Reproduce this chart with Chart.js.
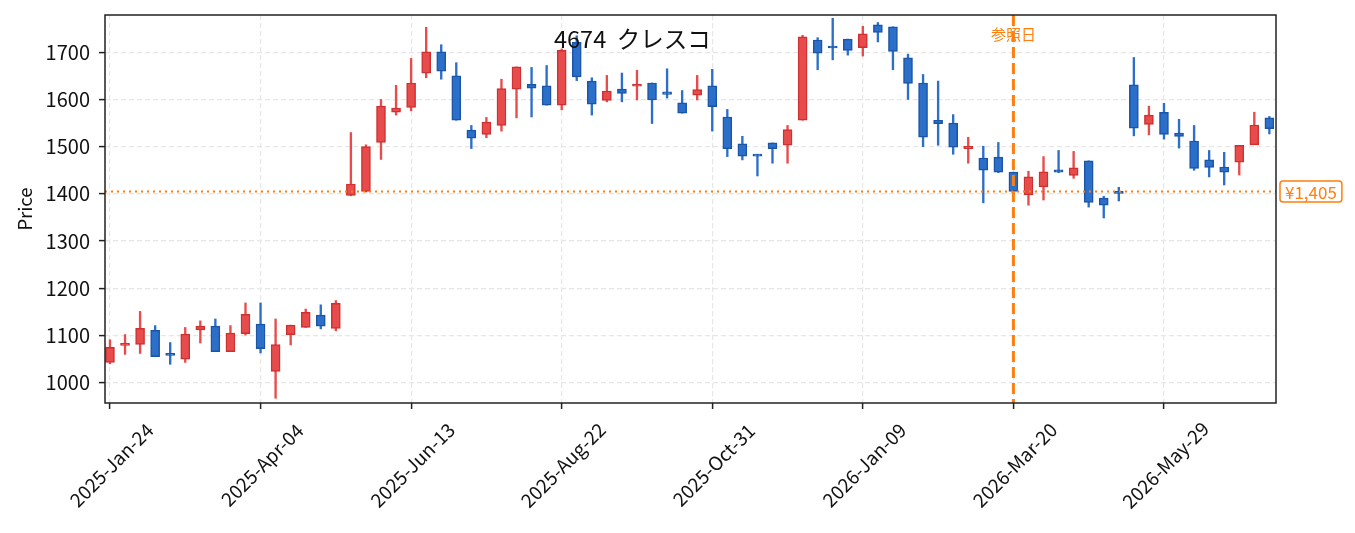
<!DOCTYPE html>
<html><head><meta charset="utf-8">
<script src="https://cdn.jsdelivr.net/npm/chart.js@4.4.0/dist/chart.umd.min.js"></script>
<style>html,body{margin:0;padding:0;background:#fff;} #wrap{width:1355px;height:533px;position:relative;}</style>
</head><body><div id="wrap"><canvas id="c" width="1355" height="533"></canvas></div>
<script>
const dates = [
"2025-Jan-24","2025-Jan-31","2025-Feb-07","2025-Feb-14","2025-Feb-21","2025-Feb-28","2025-Mar-07","2025-Mar-14","2025-Mar-21","2025-Mar-28",
"2025-Apr-04","2025-Apr-11","2025-Apr-18","2025-Apr-25","2025-May-02","2025-May-09","2025-May-16","2025-May-23","2025-May-30","2025-Jun-06",
"2025-Jun-13","2025-Jun-20","2025-Jun-27","2025-Jul-04","2025-Jul-11","2025-Jul-18","2025-Jul-25","2025-Aug-01","2025-Aug-08","2025-Aug-15",
"2025-Aug-22","2025-Aug-29","2025-Sep-05","2025-Sep-12","2025-Sep-19","2025-Sep-26","2025-Oct-03","2025-Oct-10","2025-Oct-17","2025-Oct-24",
"2025-Oct-31","2025-Nov-07","2025-Nov-14","2025-Nov-21","2025-Nov-28","2025-Dec-05","2025-Dec-12","2025-Dec-19","2025-Dec-26","2026-Jan-02",
"2026-Jan-09","2026-Jan-16","2026-Jan-23","2026-Jan-30","2026-Feb-06","2026-Feb-13","2026-Feb-20","2026-Feb-27","2026-Mar-06","2026-Mar-13",
"2026-Mar-20","2026-Mar-27","2026-Apr-03","2026-Apr-10","2026-Apr-17","2026-Apr-24","2026-May-01","2026-May-08","2026-May-15","2026-May-22",
"2026-May-29","2026-Jun-05","2026-Jun-12","2026-Jun-19","2026-Jun-26","2026-Jul-03","2026-Jul-10","2026-Jul-17"];
const openP  = [1043,1079,1081,1111,1062,1050,1112,1120,1066,1104, 1124,1024,1102,1117,1143,1115,1397,1405,1509,1573,
                1583,1656,1701,1650,1535,1526,1545,1622,1632,1629, 1588,1721,1639,1598,1622,1628,1635,1616,1593,1609,
                1629,1563,1506,1484,1508,1503,1556,1726,1713,1728, 1710,1758,1754,1688,1635,1556,1550,1496,1476,1478,
                1446,1398,1415,1451,1439,1470,1391,1405,1631,1547, 1573,1529,1512,1472,1457,1467,1504,1561];
const highP  = [1091,1102,1151,1121,1085,1117,1131,1135,1121,1169, 1169,1135,1122,1156,1165,1174,1530,1504,1600,1630,
                1687,1753,1716,1678,1545,1562,1643,1669,1668,1672, 1707,1735,1646,1651,1656,1662,1635,1665,1619,1651,
                1664,1579,1522,1484,1508,1545,1736,1731,1772,1728, 1755,1763,1754,1696,1653,1639,1568,1520,1501,1509,
                1446,1448,1479,1492,1490,1470,1395,1414,1689,1586, 1592,1558,1545,1492,1488,1503,1573,1564];
const lowP   = [1040,1060,1062,1055,1039,1043,1084,1066,1066,1101, 1063, 967,1080,1117,1114,1110,1396,1404,1473,1567,
                1576,1646,1643,1556,1496,1519,1533,1561,1563,1588, 1578,1640,1567,1595,1595,1599,1549,1603,1571,1599,
                1533,1479,1472,1438,1465,1465,1556,1663,1684,1694, 1692,1722,1663,1600,1500,1503,1484,1465,1381,1445,
                1405,1376,1387,1445,1433,1372,1349,1385,1523,1525, 1516,1497,1450,1436,1419,1440,1504,1527];
const closeP = [1075,1082,1115,1055,1058,1103,1120,1066,1105,1145, 1072,1081,1122,1149,1120,1168,1421,1500,1586,1582,
                1635,1701,1660,1556,1518,1552,1623,1669,1624,1588, 1704,1648,1590,1618,1613,1631,1599,1611,1571,1621,
                1585,1496,1480,1480,1496,1536,1733,1698,1709,1704, 1739,1742,1702,1634,1520,1549,1499,1501,1450,1446,
                1405,1436,1447,1446,1455,1382,1376,1401,1539,1567, 1526,1522,1454,1456,1446,1503,1546,1538];
const tickIndex  = [0,10,20,30,40,50,60,70];
const tickLabels = ["2025-Jan-24","2025-Apr-04","2025-Jun-13","2025-Aug-22","2025-Oct-31","2026-Jan-09","2026-Mar-20","2026-May-29"];
const yTicks = [1000,1100,1200,1300,1400,1500,1600,1700];
const refIndex = 60;
const refPrice = 1405;
const titleText = "4674  クレスコ";
const refText = "参照日";
const priceText = "¥1,405";

const UP_FILL = '#e84b4b', UP_EDGE = '#cf3131', DN_FILL = '#2c6fc8', DN_EDGE = '#1b55a8';
const ORANGE = '#ff7f0e';
const isUp = closeP.map((c,i)=> c >= openP[i]);
const bodyData = dates.map((d,i)=>({x:i, y:[Math.min(openP[i],closeP[i]), Math.max(openP[i],closeP[i])]}));
const wickData = dates.map((d,i)=>({x:i, y:[lowP[i], highP[i]]}));

const FONT = "'Noto Sans CJK JP', 'Liberation Sans', sans-serif";

const overlay = {
  id: 'overlay',
  afterDatasetsDraw(chart) {
    const {ctx, chartArea: a, scales: {x, y}} = chart;
    ctx.save();
    ctx.beginPath(); ctx.rect(a.left, a.top, a.right - a.left, a.bottom - a.top); ctx.clip();
    const py = y.getPixelForValue(refPrice);
    ctx.strokeStyle = ORANGE; ctx.lineWidth = 2; ctx.setLineDash([2, 4]); ctx.lineCap = 'butt';
    ctx.beginPath(); ctx.moveTo(a.left, py); ctx.lineTo(a.right, py); ctx.stroke();
    const px = x.getPixelForValue(refIndex);
    ctx.lineWidth = 3; ctx.setLineDash([11, 5]);
    ctx.beginPath(); ctx.moveTo(px, a.top); ctx.lineTo(px, a.bottom); ctx.stroke();
    ctx.setLineDash([]);
    ctx.fillStyle = ORANGE; ctx.font = "15px " + FONT; ctx.textAlign = 'center'; ctx.textBaseline = 'middle';
    ctx.fillText(refText, px, a.top + 19);
    ctx.fillStyle = '#111'; ctx.font = "23.5px " + FONT; ctx.textAlign = 'left'; ctx.textBaseline = 'alphabetic';
    ctx.fillText(titleText, a.left + 449, a.top + 33);
    ctx.restore();
    // price label box outside plot
    ctx.save();
    ctx.font = "17px " + FONT;
    const tw = ctx.measureText(priceText).width;
    const bx = a.right + 4, bw = tw + 10, bh = 21, by = py - bh / 2;
    ctx.fillStyle = '#fff'; ctx.strokeStyle = ORANGE; ctx.lineWidth = 1.5;
    ctx.beginPath(); ctx.roundRect(bx, by, bw, bh, 3); ctx.fill(); ctx.stroke();
    ctx.fillStyle = ORANGE; ctx.textAlign = 'center'; ctx.textBaseline = 'middle';
    ctx.fillText(priceText, bx + bw / 2, py + 1);
    ctx.restore();
    // x tick labels, rotated 45 deg and centred under each tick
    ctx.save();
    ctx.font = "19px " + FONT; ctx.fillStyle = '#111';
    ctx.textAlign = 'center'; ctx.textBaseline = 'middle';
    tickIndex.forEach((v, k) => {
      const tx = x.getPixelForValue(v) + 1.5;
      ctx.save();
      ctx.translate(tx, a.bottom + 62);
      ctx.rotate(-Math.PI / 4);
      ctx.fillText(tickLabels[k], 0, 0);
      ctx.restore();
    });
    ctx.restore();
  },
  afterDraw(chart) {
    const {ctx, chartArea: a} = chart;
    ctx.save();
    ctx.strokeStyle = '#222'; ctx.lineWidth = 1.5;
    ctx.strokeRect(a.left, a.top, a.right - a.left, a.bottom - a.top);
    ctx.restore();
  }
};

new Chart(document.getElementById('c'), {
  type: 'bar',
  data: {
    datasets: [
      { label: 'body', data: bodyData, order: 1, grouped: false, barThickness: 9, minBarLength: 2,
        backgroundColor: isUp.map(u => u ? UP_FILL : DN_FILL),
        borderColor: isUp.map(u => u ? UP_EDGE : DN_EDGE),
        borderWidth: 1.5, borderSkipped: false },
      { label: 'wick', data: wickData, order: 2, grouped: false, barThickness: 1.7,
        backgroundColor: isUp.map(u => u ? UP_FILL : DN_FILL), borderWidth: 0 }
    ]
  },
  options: {
    responsive: false, animation: false, devicePixelRatio: 1,
    layout: { padding: { left: 0, right: 79, top: 15, bottom: 0 } },
    plugins: { legend: { display: false }, tooltip: { enabled: false } },
    scales: {
      x: {
        type: 'linear', min: -0.33, max: 77.44, offset: false,
        afterBuildTicks: s => { s.ticks = tickIndex.map(v => ({ value: v })); },
        afterFit: s => { s.height = 130; s.paddingLeft = 0; s.paddingRight = 0; },
        ticks: { display: false },
        grid: { color: '#e6e6e6', lineWidth: 1.2, offset: false, drawTicks: true, tickLength: 6, tickColor: '#222', tickWidth: 1.5 },
        border: { display: false, dash: [5, 3] }
      },
      y: {
        type: 'linear', min: 957, max: 1779,
        afterBuildTicks: s => { s.ticks = yTicks.map(v => ({ value: v })); },
        afterFit: s => { s.width = 105; s.paddingTop = 0; s.paddingBottom = 0; },
        ticks: { callback: v => String(v), font: { family: FONT, size: 20 }, color: '#111', padding: 9 },
        grid: { color: '#e6e6e6', lineWidth: 1.2, drawTicks: true, tickLength: 6, tickColor: '#222', tickWidth: 1.5 },
        border: { display: false, dash: [5, 3] },
        title: { display: true, text: 'Price', font: { family: FONT, size: 18.5 }, color: '#111', padding: { top: 14, bottom: 0 } }
      }
    }
  },
  plugins: [overlay]
});
</script></body></html>
